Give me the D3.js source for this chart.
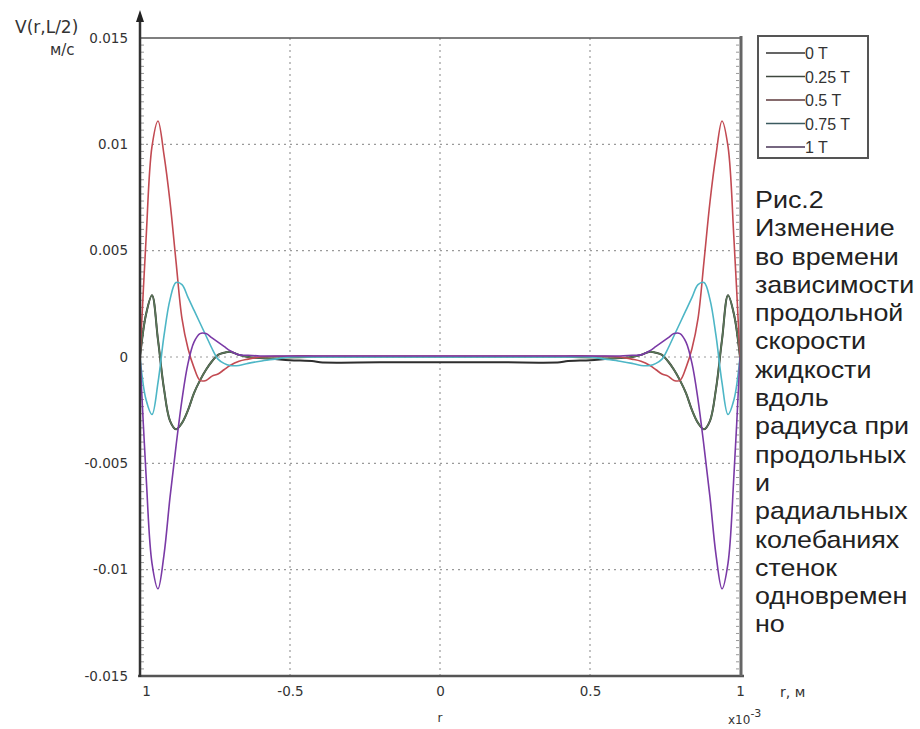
<!DOCTYPE html>
<html>
<head>
<meta charset="utf-8">
<script src="https://cdn.jsdelivr.net/npm/d3@7"></script>
<style>
  body { margin: 0; background: #fff; }
  svg { display: block; }
</style>
</head>
<body>
<svg id="chart" width="920" height="729"></svg>
<script>
// radius, x10^-3 m
var r = [-1, -0.98, -0.96, -0.94, -0.92, -0.9, -0.88, -0.86, -0.84, -0.82, -0.8, -0.78, -0.76, -0.74, -0.72, -0.7, -0.67, -0.64, -0.6, -0.55, -0.5, -0.42, -0.4, -0.2,
         0,
         0.2, 0.4, 0.42, 0.5, 0.55, 0.6, 0.64, 0.67, 0.7, 0.72, 0.74, 0.76, 0.78, 0.8, 0.82, 0.84, 0.86, 0.88, 0.9, 0.92, 0.94, 0.96, 0.98, 1];

// V(r, L/2), m/s, one array per moment of time
var v0T = [0, 0.002, 0.0029, 0.0008, -0.0015, -0.003, -0.0034, -0.0031, -0.0025, -0.0017, -0.0011, -0.0006, -0.0002, 0.0001, 0.0002, 0.00025, 0.0001, 0, -0.00005, -0.0001, -0.00015, -0.0002, -0.00025, -0.00025,
           -0.00025,
           -0.00025, -0.00025, -0.0002, -0.00015, -0.0001, -0.00005, 0, 0.0001, 0.00025, 0.0002, 0.0001, -0.0002, -0.0006, -0.0011, -0.0017, -0.0025, -0.0031, -0.0034, -0.003, -0.0015, 0.0008, 0.0029, 0.002, 0];
var v025T = [0, 0.002, 0.0029, 0.0008, -0.0015, -0.003, -0.0034, -0.0031, -0.0025, -0.0017, -0.0011, -0.0006, -0.0002, 0.0001, 0.0002, 0.00025, 0.0001, 0, -0.00005, -0.00005, -0.00003, 0, 0, 0,
             0,
             0, 0, 0, -0.00003, -0.00005, -0.00005, 0, 0.0001, 0.00025, 0.0002, 0.0001, -0.0002, -0.0006, -0.0011, -0.0017, -0.0025, -0.0031, -0.0034, -0.003, -0.0015, 0.0008, 0.0029, 0.002, 0];
var v05T = [0, 0.0055, 0.0099, 0.0111, 0.0095, 0.0073, 0.0045, 0.0018, 0.0004, -0.0005, -0.0011, -0.0011, -0.0009, -0.0008, -0.0006, -0.0004, -0.0002, -0.0001, 0, 0.00003, 0.00005, 0.00005, 0.00005, 0.00005,
            0.00005,
            0.00005, 0.00005, 0.00005, 0.00005, 0.00003, 0, -0.0001, -0.0002, -0.0004, -0.0006, -0.0008, -0.0009, -0.0011, -0.0011, -0.0005, 0.0004, 0.0018, 0.0045, 0.0073, 0.0095, 0.0111, 0.0099, 0.0055, 0];
var v075T = [0, -0.002, -0.0027, -0.0012, 0.001, 0.0027, 0.0035, 0.0034, 0.0028, 0.0022, 0.0016, 0.001, 0.0004, -0.0001, -0.0003, -0.0004, -0.0004, -0.0003, -0.0002, -0.0001, 0, 0, 0, 0,
             0,
             0, 0, 0, 0, -0.0001, -0.0002, -0.0003, -0.0004, -0.0004, -0.0003, -0.0001, 0.0004, 0.001, 0.0016, 0.0022, 0.0028, 0.0034, 0.0035, 0.0027, 0.001, -0.0012, -0.0027, -0.002, 0];
var v1T = [0, -0.0055, -0.0097, -0.0109, -0.0093, -0.0066, -0.0042, -0.002, -0.0003, 0.0007, 0.0011, 0.0011, 0.0009, 0.0007, 0.0005, 0.0003, 0.0001, 0.00008, 0.00005, 0.00005, 0.00005, 0.00005, 0.00005, 0.00005,
           0.00005,
           0.00005, 0.00005, 0.00005, 0.00005, 0.00005, 0.00005, 0.00008, 0.0001, 0.0003, 0.0005, 0.0007, 0.0009, 0.0011, 0.0011, 0.0007, -0.0003, -0.002, -0.0042, -0.0066, -0.0093, -0.0109, -0.0097, -0.0055, 0];

var seriesNames = ["0 T", "0.25 T", "0.5 T", "0.75 T", "1 T"];
var seriesColors = ["#2e2e2e", "#5a7658", "#c24a52", "#4db6c6", "#7a3aa6"];
var seriesValues = [v0T, v025T, v05T, v075T, v1T];

var yTicks = [-0.015, -0.01, -0.005, 0, 0.005, 0.01, 0.015];
var yTickLabels = ["-0.015", "-0.01", "-0.005", "0", "0.005", "0.01", "0.015"];
var xTicks = [-1, -0.5, 0, 0.5, 1];
var xTickLabels = ["1", "-0.5", "0", "0.5", "1"];

var caption = ["Рис.2", "Изменение", "во времени", "зависимости", "продольной", "скорости",
               "жидкости", "вдоль", "радиуса при", "продольных", "и", "радиальных",
               "колебаниях", "стенок", "одновремен", "но"];

var svg = d3.select("#chart");
var pLeft = 140, pRight = 740, pTop = 38, pBottom = 676;

var x = d3.scaleLinear().domain([-1, 1]).range([pLeft, pRight]);
var y = d3.scaleLinear().domain([-0.015, 0.015]).range([pBottom, pTop]);

// grid
var grid = svg.append("g").attr("stroke", "#9a9a9a").attr("stroke-width", 1.2).attr("stroke-dasharray", "2,4");
grid.selectAll("line.gx").data(xTicks.filter(function(d){ return Math.abs(d) < 1; }))
    .enter().append("line")
    .attr("x1", function(d){ return x(d); }).attr("x2", function(d){ return x(d); })
    .attr("y1", pTop).attr("y2", pBottom);
grid.selectAll("line.gy").data(yTicks.filter(function(d){ return Math.abs(d) < 0.015; }))
    .enter().append("line")
    .attr("y1", function(d){ return y(d); }).attr("y2", function(d){ return y(d); })
    .attr("x1", pLeft).attr("x2", pRight);

// minor ticks along both vertical borders
var minor = d3.range(-0.015, 0.015, 0.001 / 3);
svg.append("g").selectAll("line").data(minor).enter().append("line")
    .attr("x1", pLeft + 1).attr("x2", pLeft + 4)
    .attr("y1", function(d){ return y(d); }).attr("y2", function(d){ return y(d); })
    .attr("stroke", "#999").attr("stroke-width", 1);
svg.append("g").selectAll("line").data(minor).enter().append("line")
    .attr("x1", pRight - 4).attr("x2", pRight - 1)
    .attr("y1", function(d){ return y(d); }).attr("y2", function(d){ return y(d); })
    .attr("stroke", "#999").attr("stroke-width", 1);

// top border
svg.append("line").attr("x1", pLeft).attr("x2", pRight + 2).attr("y1", pTop).attr("y2", pTop)
    .attr("stroke", "#555").attr("stroke-width", 1.5);

// curves
var line = d3.line()
    .x(function(d){ return x(d[0]); })
    .y(function(d){ return y(d[1]); })
    .curve(d3.curveCatmullRom.alpha(0.5));

seriesValues.forEach(function(vals, i) {
    svg.append("path")
        .datum(r.map(function(rv, j){ return [rv, vals[j]]; }))
        .attr("d", line)
        .attr("fill", "none")
        .attr("stroke", seriesColors[i])
        .attr("stroke-width", i === 0 ? 2 : 1.6);
});

// axes
var yAxis = svg.append("g").attr("transform", "translate(" + pLeft + ",0)")
    .call(d3.axisLeft(y).tickValues(yTicks).tickSize(0).tickPadding(12)
        .tickFormat(function(d, i){ return yTickLabels[i]; }));
yAxis.select(".domain").remove();
yAxis.selectAll("text").attr("font-family", "DejaVu Sans").attr("font-size", 13.5).attr("fill", "#333");

var xAxis = svg.append("g").attr("transform", "translate(0," + pBottom + ")")
    .call(d3.axisBottom(x).tickValues(xTicks).tickSize(0).tickPadding(10)
        .tickFormat(function(d, i){ return xTickLabels[i]; }));
xAxis.select(".domain").remove();
xAxis.selectAll("text").attr("font-family", "DejaVu Sans").attr("font-size", 13.5).attr("fill", "#333");
xAxis.selectAll(".tick").filter(function(d){ return d === -1; }).select("text").attr("dx", 6);

// frame lines
svg.append("line").attr("x1", pLeft - 2).attr("x2", pRight + 4).attr("y1", pBottom).attr("y2", pBottom)
    .attr("stroke", "#555").attr("stroke-width", 2.5);
svg.append("line").attr("x1", pRight + 1).attr("x2", pRight + 1).attr("y1", pTop - 2).attr("y2", pBottom)
    .attr("stroke", "#666").attr("stroke-width", 3);
svg.append("line").attr("x1", pLeft).attr("x2", pLeft).attr("y1", 18).attr("y2", pBottom + 1)
    .attr("stroke", "#333").attr("stroke-width", 2.5);
svg.append("path").attr("d", "M" + pLeft + ",10 L" + (pLeft - 4) + ",22 L" + (pLeft + 4) + ",22 Z").attr("fill", "#222");

// axis titles
svg.append("text").attr("x", 15).attr("y", 33).text("V(r,L/2)")
    .attr("font-family", "DejaVu Sans").attr("font-size", 17).attr("fill", "#333");
svg.append("text").attr("x", 50).attr("y", 55).text("м/с")
    .attr("font-family", "DejaVu Sans").attr("font-size", 15).attr("fill", "#333");
svg.append("text").attr("x", 780).attr("y", 697).text("r, м")
    .attr("font-family", "DejaVu Sans").attr("font-size", 14).attr("fill", "#333");
svg.append("text").attr("x", x(0)).attr("y", 722).attr("text-anchor", "middle").text("r")
    .attr("font-family", "DejaVu Sans").attr("font-size", 12).attr("fill", "#333");
var sci = svg.append("text").attr("x", 728).attr("y", 724)
    .attr("font-family", "DejaVu Sans").attr("font-size", 12).attr("fill", "#333");
sci.append("tspan").text("x10");
sci.append("tspan").attr("dy", -7).attr("font-size", 11).text("-3");

// legend
var legend = svg.append("g");
legend.append("rect").attr("x", 758).attr("y", 36).attr("width", 110).attr("height", 122)
    .attr("fill", "#fff").attr("stroke", "#555").attr("stroke-width", 2);
var rows = legend.selectAll("g.row").data(seriesNames).enter().append("g")
    .attr("transform", function(d, i){ return "translate(0," + (53 + i * 23.5) + ")"; });
rows.append("line").attr("x1", 766).attr("x2", 805).attr("y1", 0).attr("y2", 0)
    .attr("stroke", function(d, i){ return d3.interpolateRgb(seriesColors[i], "#333")(0.7); })
    .attr("stroke-width", 1.5);
rows.append("text").attr("x", 805).attr("y", 6).text(function(d){ return d; })
    .attr("font-family", "Liberation Sans").attr("font-size", 16).attr("fill", "#333");

// caption
var cap = svg.append("g").attr("transform", "translate(755,0) scale(1.12,1)");
cap.selectAll("text").data(caption).enter().append("text")
    .attr("x", 0).attr("y", function(d, i){ return 208 + i * 28.3; })
    .text(function(d){ return d; })
    .attr("font-family", "Liberation Sans").attr("font-size", 24).attr("fill", "#222");
</script>
</body>
</html>
